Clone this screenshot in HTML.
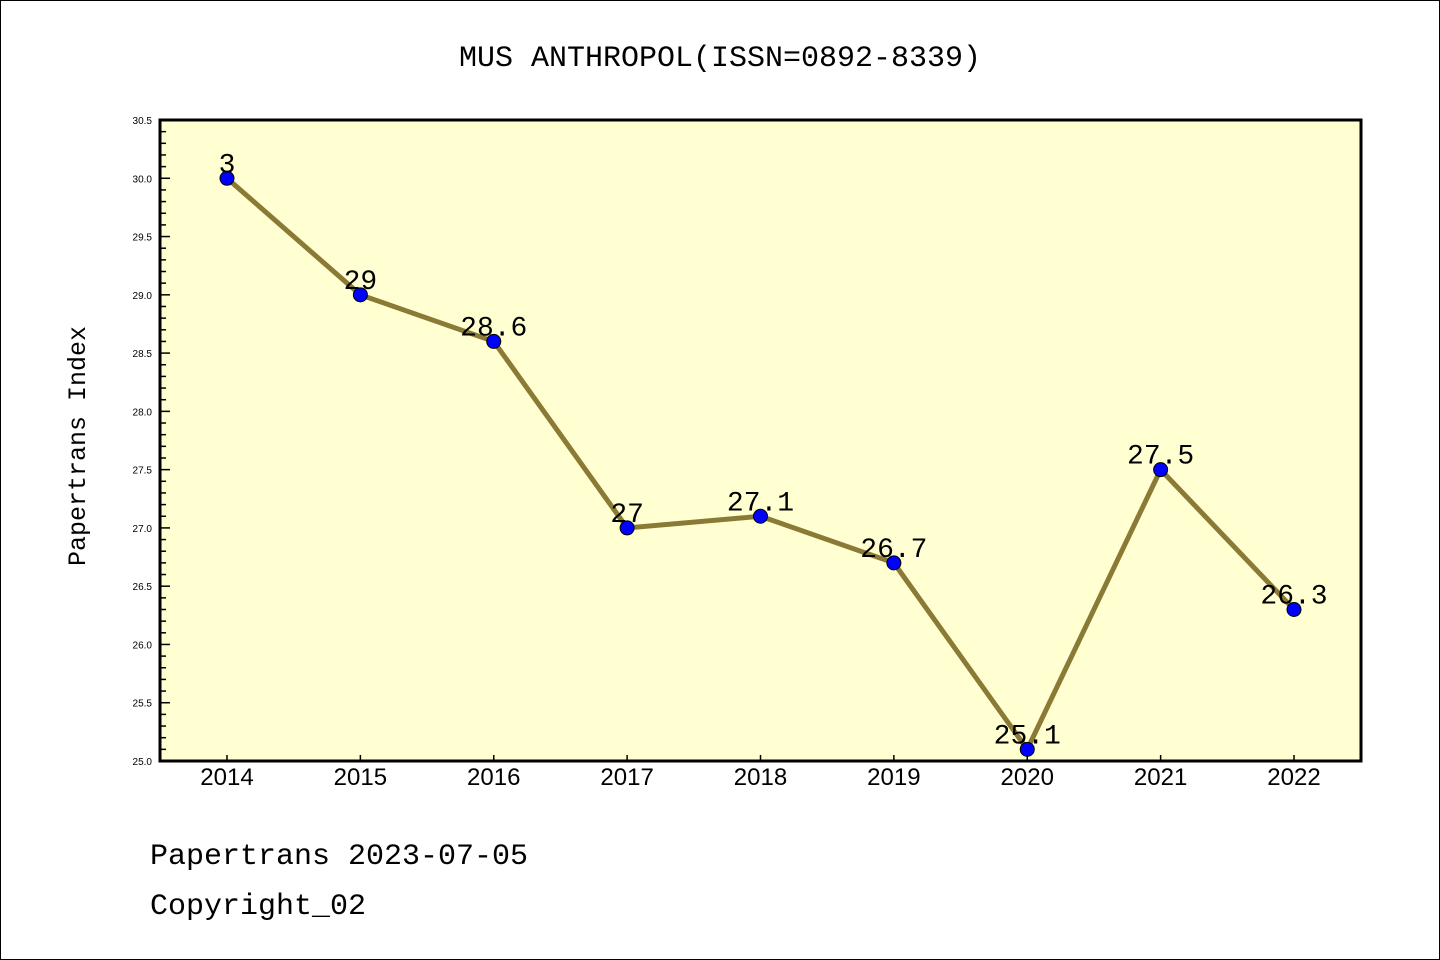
<!DOCTYPE html>
<html><head><meta charset="utf-8"><style>
body{margin:0;background:#fff;}
svg{display:block;font-family:"Liberation Mono","DejaVu Sans Mono",monospace;}
</style></head><body>
<svg id="chart" width="1440" height="960">
<rect x="0.5" y="0.5" width="1439" height="959" fill="#fff" stroke="#000"/>
<text x="720" y="66" text-anchor="middle" font-size="30">MUS ANTHROPOL(ISSN=0892-8339)</text>
<rect x="160" y="120" width="1201" height="641" fill="#ffffd2"/>
<g id="yaxis"></g>
<g id="xaxis"></g>
<g id="series"></g>
<rect x="160" y="120" width="1201" height="641" fill="none" stroke="#000" stroke-width="3"/>
<text transform="translate(85,446) rotate(-90)" text-anchor="middle" font-size="25">Papertrans Index</text>
<text x="150" y="864" font-size="30">Papertrans 2023-07-05</text>
<text x="150" y="914" font-size="30">Copyright_02</text>
</svg>
<script>
const years=["2014","2015","2016","2017","2018","2019","2020","2021","2022"];
const values=[30,29,28.6,27,27.1,26.7,25.1,27.5,26.3];
const labels=["3","29","28.6","27","27.1","26.7","25.1","27.5","26.3"];
const yTicks=["25.0","25.5","26.0","26.5","27.0","27.5","28.0","28.5","29.0","29.5","30.0","30.5"];
const NS="http://www.w3.org/2000/svg";
const yMin=25,yMax=30.5,yTop=120,yBot=761,xLeft=160;
const Y=v=>yBot-(v-yMin)/(yMax-yMin)*(yBot-yTop);
const X=i=>227+i*(1294-227)/(years.length-1);
function mk(t,a,p){const e=document.createElementNS(NS,t);for(const k in a)e.setAttribute(k,a[k]);p.appendChild(e);return e;}
const ya=document.getElementById('yaxis'),xa=document.getElementById('xaxis'),s=document.getElementById('series');
for(let k=0;k<=55;k++){const v=yMin+k*0.1;const major=k%5===0;
const l=mk('line',{x1:xLeft,x2:xLeft+(major?10:6),y1:Y(v),y2:Y(v),stroke:'#000','stroke-width':1.5},ya);

}
yTicks.forEach(t=>{const e=mk('text',{x:152,y:Y(parseFloat(t))+4,'text-anchor':'end','font-size':10,'font-family':'Liberation Sans, sans-serif'},ya);e.textContent=t;

});
years.forEach((y,i)=>{const l=mk('line',{x1:X(i),x2:X(i),y1:yBot,y2:yBot-6,stroke:'#000','stroke-width':1.5},xa);


const e=mk('text',{x:X(i),y:785,'text-anchor':'middle','font-size':24,'font-family':'Liberation Sans, sans-serif'},xa);e.textContent=y;

});
const pl=mk('polyline',{points:values.map((v,i)=>X(i)+','+Y(v)).join(' '),fill:'none',stroke:'#8b7a35','stroke-width':5},s);


values.forEach((v,i)=>{const c=mk('circle',{cx:X(i),cy:Y(v),r:7,fill:'#0000ff',stroke:'#000','stroke-width':1},s);


const t=mk('text',{x:X(i),y:Y(v)-6,'text-anchor':'middle','font-size':28},s);t.textContent=labels[i];

});
</script>
</body></html>
